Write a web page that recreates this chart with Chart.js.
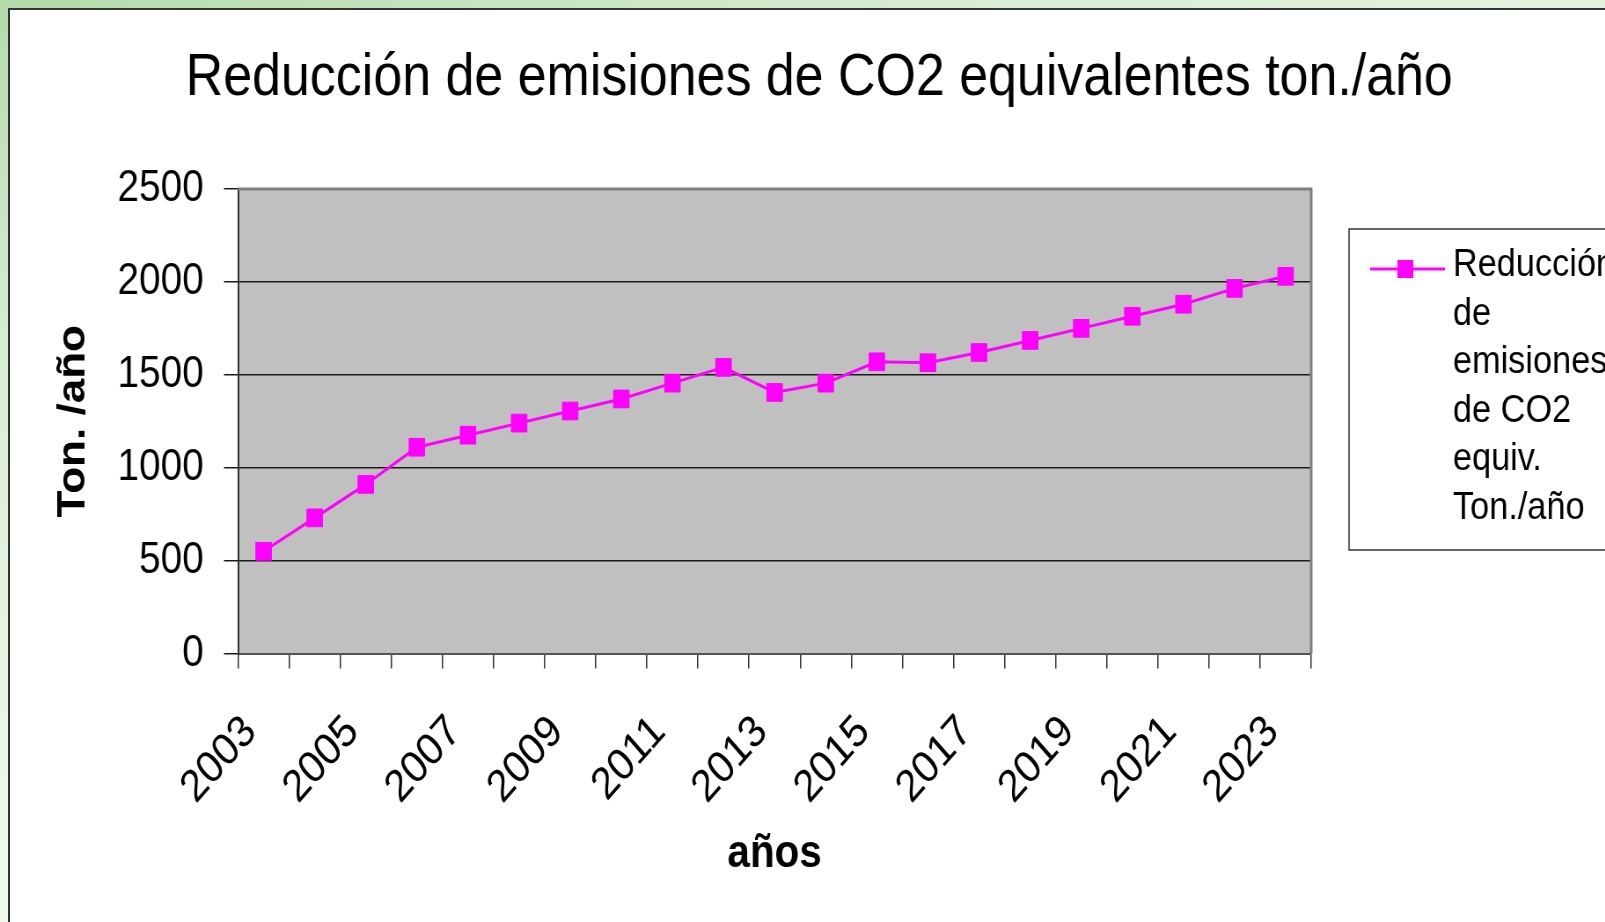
<!DOCTYPE html>
<html lang="es">
<head>
<meta charset="utf-8">
<title>Reducción de emisiones de CO2 equivalentes</title>
<script src="https://cdn.jsdelivr.net/npm/chart.js@4.4.1/dist/chart.umd.min.js"></script>
<style>
  html, body { margin: 0; padding: 0; }
  body {
    width: 1605px; height: 922px; overflow: hidden; position: relative;
    background: linear-gradient(160deg, #b3dbab 0%, #d9eed4 25%, #eef7eb 55%, #f8fcf7 100%);
  }
  #frame {
    position: absolute; left: 8px; top: 8px; width: 1700px; height: 1000px;
    background: #fff; border: 2px solid #333;
  }
  /* the original picture is squeezed horizontally, so the canvas is drawn wider and scaled */
  #wrap {
    position: absolute; left: 0; top: 0; width: 1824px; height: 922px;
    transform: scaleX(0.88); transform-origin: 0 0;
  }
</style>
</head>
<body>
<div id="frame"></div>
<div id="wrap"><canvas id="co2-chart"></canvas></div>
<script>
// years on the x axis
const years = ['2003', '2004', '2005', '2006', '2007', '2008', '2009', '2010', '2011', '2012',
               '2013', '2014', '2015', '2016', '2017', '2018', '2019', '2020', '2021', '2022', '2023'];

// reduction of CO2 equivalent emissions, ton./year
const reduction = [550, 730, 910, 1110, 1175, 1240, 1305, 1370, 1455, 1540,
                   1405, 1455, 1570, 1565, 1620, 1685, 1750, 1815, 1880, 1965, 2030];

// y axis ticks
const yTicks = [0, 500, 1000, 1500, 2000, 2500];

const chartTitle = 'Reducción de emisiones de CO2 equivalentes ton./año';
const seriesName = 'Reducción de emisiones de CO2 equiv. Ton./año';
const legendLines = ['Reducción', 'de', 'emisiones', 'de CO2', 'equiv.', 'Ton./año'];
const xTitle = 'años';
const yTitle = 'Ton. /año';

const FONT = '"Liberation Sans", Arial, sans-serif';
const MAGENTA = '#ff00ff';

// plot background, plot border, title and the legend box
const excelLook = {
    id: 'excelLook',
    beforeDraw(chart) {
        const { ctx, chartArea: a } = chart;
        ctx.save();
        ctx.fillStyle = '#c0c0c0';
        ctx.fillRect(a.left, a.top, a.right - a.left, a.bottom - a.top);
        ctx.restore();
    },
    beforeDatasetsDraw(chart) {
        const { ctx, chartArea: a } = chart;
        ctx.save();
        ctx.strokeStyle = '#808080';
        ctx.lineWidth = 3;
        ctx.beginPath();
        ctx.moveTo(a.left, a.top);
        ctx.lineTo(a.right, a.top);
        ctx.lineTo(a.right, a.bottom);
        ctx.stroke();
        ctx.restore();
    },
    afterDraw(chart) {
        const { ctx } = chart;
        ctx.save();

        // title
        ctx.fillStyle = '#000';
        ctx.font = '59px ' + FONT;
        ctx.textAlign = 'center';
        ctx.textBaseline = 'alphabetic';
        ctx.fillText(chartTitle, 931, 95);

        // legend box (runs off the right edge like the original)
        ctx.strokeStyle = '#333';
        ctx.lineWidth = 1.5;
        ctx.strokeRect(1533, 229, 400, 321);

        // legend symbol
        ctx.strokeStyle = MAGENTA;
        ctx.lineWidth = 3;
        ctx.beginPath();
        ctx.moveTo(1557, 269);
        ctx.lineTo(1642, 269);
        ctx.stroke();
        ctx.fillStyle = MAGENTA;
        ctx.fillRect(1597 - 9, 269 - 9, 18, 18);

        // legend text
        ctx.fillStyle = '#000';
        ctx.font = '39px ' + FONT;
        ctx.textAlign = 'left';
        legendLines.forEach((line, i) => {
            ctx.fillText(line, 1651, 276 + i * 48.5);
        });
        ctx.restore();
    }
};

const ctx = document.getElementById('co2-chart').getContext('2d');

new Chart(ctx, {
    type: 'line',
    data: {
        labels: years,
        datasets: [{
            label: seriesName,
            data: reduction,
            borderColor: MAGENTA,
            borderWidth: 3,
            backgroundColor: MAGENTA,
            pointStyle: 'rect',
            pointRadius: 12.5,
            pointBackgroundColor: MAGENTA,
            pointBorderColor: MAGENTA,
            pointBorderWidth: 1,
            tension: 0,
            fill: false
        }]
    },
    options: {
        responsive: true,
        maintainAspectRatio: false,
        animation: false,
        layout: {
            padding: { left: 0, top: 189, right: 334, bottom: 0 }
        },
        scales: {
            x: {
                offset: true,
                afterFit: (scale) => { scale.height = 268.5; },
                border: { color: '#555', width: 2 },
                grid: {
                    offset: true,
                    drawOnChartArea: false,
                    drawTicks: true,
                    tickLength: 15,
                    color: '#333',
                    lineWidth: 1.5
                },
                ticks: {
                    autoSkip: false,
                    minRotation: 45,
                    maxRotation: 45,
                    padding: 37,
                    labelOffset: -15,
                    color: '#000',
                    font: { family: FONT, size: 45 },
                    callback: function (value, index) {
                        return index % 2 === 0 ? this.getLabelForValue(value) : '';
                    }
                },
                title: {
                    display: true,
                    text: xTitle,
                    color: '#000',
                    font: { family: FONT, size: 46, weight: 'bold' },
                    padding: { top: 0, bottom: 40 }
                }
            },
            y: {
                min: yTicks[0],
                max: yTicks[yTicks.length - 1],
                afterFit: (scale) => { scale.width = 270.5; },
                afterBuildTicks: (scale) => { scale.ticks = yTicks.map(v => ({ value: v })); },
                border: { color: '#333', width: 2 },
                grid: {
                    color: '#1a1a1a',
                    lineWidth: 1.5,
                    drawTicks: true,
                    tickLength: 16
                },
                ticks: {
                    padding: 23,
                    color: '#000',
                    font: { family: FONT, size: 44 },
                    callback: (value) => String(value)
                },
                title: {
                    display: true,
                    text: yTitle,
                    color: '#000',
                    font: { family: FONT, size: 44, weight: 'bold' },
                    padding: { top: 57, bottom: 0 }
                }
            }
        },
        plugins: {
            legend: { display: false },
            title: { display: false },
            tooltip: { enabled: false }
        }
    },
    plugins: [excelLook]
});
</script>
</body>
</html>
